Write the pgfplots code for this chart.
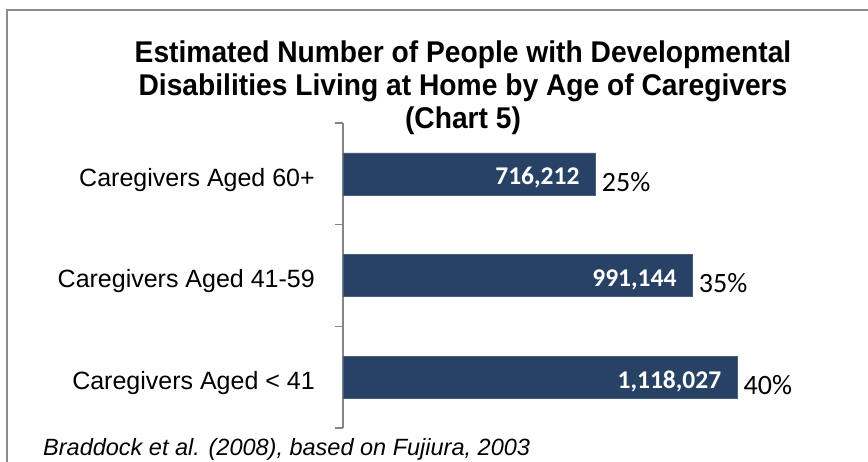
\documentclass[border=0pt]{standalone}
\usepackage{fontspec}
\setmainfont{Liberation Sans}
\newfontfamily\calibri{Carlito}
\newfontfamily\titlefont[FakeStretch=0.94]{Liberation Sans Bold}
\usepackage{pgfplots}
\usepackage{pgfplotstable}
\pgfplotsset{compat=1.18}
\definecolor{barblue}{HTML}{284266}
\definecolor{axgray}{HTML}{868686}
\definecolor{framegray}{HTML}{8C8C8C}
\pgfplotstableread{
y value lab pct
0 1118027 1,118,027 40
1 991144 991,144 35
2 716212 716,212 25
}\datatable
\begin{document}
\begin{tikzpicture}[x=1pt,y=1pt]
\useasboundingbox (0,0) rectangle (868,461);
\draw[framegray, line width=2pt] (7,-10) -- (7,451) -- (900,451);
\node[anchor=base, inner sep=0pt, font=\titlefont\fontsize{30}{32}\selectfont] at (463,398) {Estimated Number of People with Developmental};
\node[anchor=base, inner sep=0pt, font=\titlefont\fontsize{30}{32}\selectfont] at (463,365) {Disabilities Living at Home by Age of Caregivers};
\node[anchor=base, inner sep=0pt, font=\titlefont\fontsize{30}{32}\selectfont] at (463,332) {(Chart 5)};
\node[anchor=base west, inner sep=0pt, font=\fontsize{23.5}{27}\selectfont\itshape] at (43,6) {Braddock et al. (2008), based on Fujiura, 2003};
\begin{axis}[
 at={(343pt,33pt)}, anchor=south west, scale only axis,
 width=423.4pt, height=305pt,
 xmin=0, xmax=1200000, ymin=-0.5, ymax=2.5,
 axis x line=none, axis y line*=left,
 y axis line style={axgray, line width=1.3pt, -},
 ytick={-0.5,0.5,1.5,2.5}, yticklabels={},
 tick align=outside, major tick length=8pt,
 ytick style={axgray, line width=1.3pt},
 extra y ticks={0,1,2},
 extra y tick labels={Caregivers Aged < 41, Caregivers Aged 41-59, Caregivers Aged 60+},
 extra y tick style={major tick length=0pt, yticklabel style={font=\fontsize{25}{30}\selectfont, anchor=east, inner sep=0pt, xshift=-28pt, yshift=-6pt}},
 clip=false,
]
\addplot[xbar, bar width=42pt, fill=barblue, draw=barblue!85, line width=0.5pt,
 point meta=explicit symbolic, nodes near coords,
 every node near coord/.style={anchor=east, xshift=-16pt, yshift=-4pt, text=white, inner sep=0pt, font=\calibri\bfseries\fontsize{25.5}{30}\selectfont}]
 table[x=value, y=y, meta=lab]{\datatable};
\addplot[draw=none, mark=none, point meta=explicit symbolic,
 nodes near coords={\pgfplotspointmeta\%},
 every node near coord/.style={anchor=west, xshift=6pt, yshift=-8pt, inner sep=0pt, text=black, font=\calibri\fontsize{28}{32}\selectfont}]
 table[x=value, y=y, meta=pct]{\datatable};
\end{axis}
\end{tikzpicture}
\end{document}
